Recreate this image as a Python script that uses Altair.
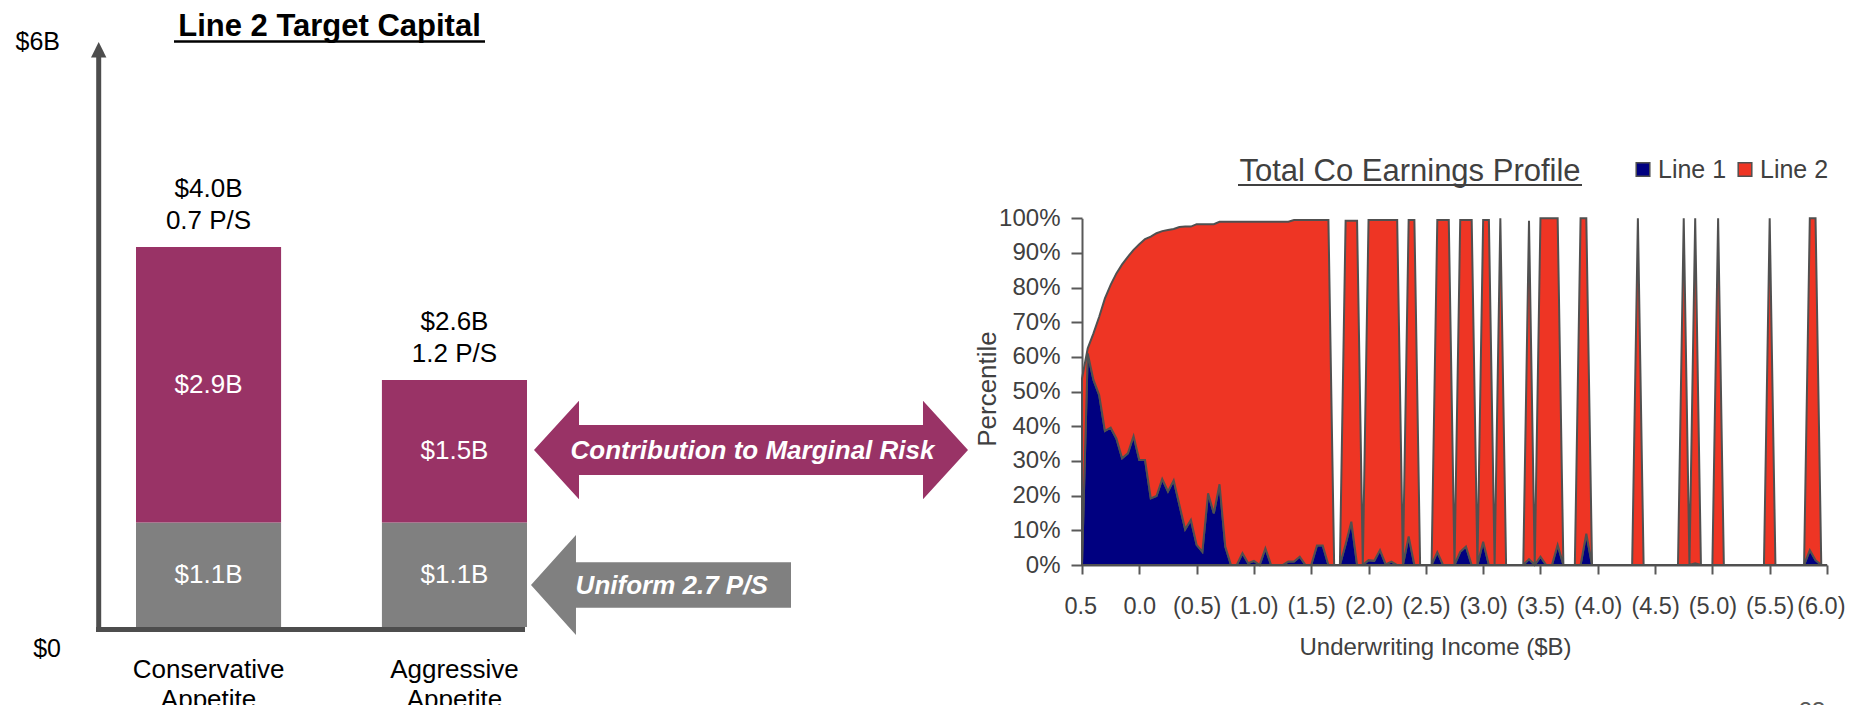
import altair as alt
import pandas as pd

FONT = "Liberation Sans, Arial, Helvetica, sans-serif"
AX = "#4d4d4d"
LBL = "#404040"

# ---------------- Left panel: Line 2 Target Capital ($B) ----------------
categories = ["Conservative Appetite", "Aggressive Appetite"]
uniform_b = [1.1, 1.1]          # grey segment (Uniform 2.7 P/S)
marginal_b = [2.9, 1.5]         # purple segment (Contribution to Marginal Risk)
total_b = [4.0, 2.6]
ps_labels = ["0.7 P/S", "1.2 P/S"]
segments = ["Uniform", "Marginal"]
segment_colors = ["#808080", "#993366"]
left_axis_values = [6, 0]
left_axis_labels = ["$6B", "$0"]
arrow_texts = ["Contribution to Marginal Risk", "Uniform 2.7 P/S"]

# ---------------- Right panel: Total Co Earnings Profile ----------------
series = ["Line 1", "Line 2"]
series_colors = ["#000080", "#EE3524"]
line1 = [0, 61, 53.4, 49, 38.7, 39.6, 36.5, 30.8, 32.2, 37.2,
         30.3, 30.3, 19.2, 19.9, 24.8, 21.2, 24.4, 17.3, 10.3, 13,
         5.8, 3.8, 20.7, 14.9, 23.3, 5.3, 0, 0, 3.4, 0.5,
         1.2, 0, 4.8, 0, 0, 0, 1, 1, 2.4, 0,
         0, 5.6, 5.6, 0, 0, 0, 6, 12.5, 0, 0,
         1.4, 1.2, 4.3, 0.2, 1, 0, 0, 8.2, 0, 0,
         0, 0, 3.7, 0, 0, 0, 3.8, 5.3, 0, 0,
         6.7, 0, 0, 0, 0, 0, 0, 0, 1.7, 0,
         2.4, 0, 0, 5.8, 0, 0, 0, 0, 9, 0,
         0, 0, 0, 0, 0, 0, 0, 0, 0, 0,
         0, 0, 0, 0, 0, 0, 0, 0.5, 0, 0,
         0, 0, 0, 0, 0, 0, 0, 0, 0, 0,
         0, 0, 0, 0, 0, 0, 0, 4.3, 1.4, 0,
         0]
line2 = [53.8, 1.5, 13.4, 22.6, 38.2, 41.2, 47.6, 55.9, 56.7, 53.7,
         62.2, 63.7, 75.5, 75.8, 71.5, 75.4, 72.5, 80.2, 87.3, 84.6,
         92.5, 94.5, 77.6, 83.4, 75.7, 93.7, 99, 99, 95.6, 98.5,
         97.8, 99, 94.2, 99, 99, 99, 98, 98.5, 97.1, 99.5,
         99.5, 93.9, 93.9, 99.5, 0, 0, 93.3, 86.8, 99.3, 0,
         98.1, 98.3, 95.2, 99.3, 98.5, 99.5, 0, 91.3, 99.5, 0,
         0, 0, 95.8, 99.5, 99.5, 0, 95.7, 94.2, 99.5, 0,
         92.8, 99.5, 0, 100, 0, 0, 0, 0, 97.6, 0,
         97.6, 100, 100, 94.2, 0, 0, 0, 100, 91, 0,
         0, 0, 0, 0, 0, 0, 0, 100, 0, 0,
         0, 0, 0, 0, 0, 100, 0, 99.5, 0, 0,
         0, 100, 0, 0, 0, 0, 0, 0, 0, 0,
         100, 0, 0, 0, 0, 0, 0, 95.7, 98.6, 0,
         0]
# category axis: underwriting income buckets 0.5 ... (6.0) in 0.05 steps
income = [round(0.5 - 0.05 * i, 2) for i in range(len(line1))]
x_ticks = [0.5, 0.0, -0.5, -1.0, -1.5, -2.0, -2.5, -3.0, -3.5, -4.0, -4.5, -5.0, -5.5, -6.0]
y_ticks = [0, 10, 20, 30, 40, 50, 60, 70, 80, 90, 100]

# ---------------- tables ----------------
bar_rows = []
for c, u, m in zip(categories, uniform_b, marginal_b):
    bar_rows.append({"category": c, "segment": "Uniform", "seg_order": 0, "value": u, "mid": u / 2})
    bar_rows.append({"category": c, "segment": "Marginal", "seg_order": 1, "value": m, "mid": u + m / 2})
bar_df = pd.DataFrame(bar_rows)
top_df = pd.DataFrame({"category": categories, "total": total_b, "ps": ps_labels})
cat_df = pd.DataFrame({"category": categories})
laxis_df = pd.DataFrame({"v": left_axis_values, "lab": left_axis_labels})

area_rows = []
for x, a, b in zip(income, line1, line2):
    area_rows.append({"income": x, "series": "Line 1", "s_order": 0, "value": a})
    area_rows.append({"income": x, "series": "Line 2", "s_order": 1, "value": b})
area_df = pd.DataFrame(area_rows)
legend_df = pd.DataFrame({"series": series})
one = pd.DataFrame({"k": [0]})

# ---------------- left layer ----------------
xL = alt.X("category:N", sort=categories, axis=None,
           scale=alt.Scale(domain=categories, range=[128, 519], paddingInner=0.41, paddingOuter=0))
yS = alt.Scale(domain=[0, 6], range=[619, 49], nice=False, zero=True)

bars = alt.Chart(bar_df).mark_bar(opacity=1).encode(
    x=xL,
    y=alt.Y("value:Q", stack="zero", scale=yS, axis=None),
    color=alt.Color("segment:N", scale=alt.Scale(domain=segments, range=segment_colors), legend=None),
    order=alt.Order("seg_order:Q"),
)
seg_text = alt.Chart(bar_df).transform_calculate(
    label="'$' + format(datum.value, '.1f') + 'B'"
).mark_text(color="white", fontSize=26, font=FONT, baseline="middle").encode(
    x=xL, y=alt.Y("mid:Q", scale=yS, axis=None), text="label:N"
)
top_amt = alt.Chart(top_df).transform_calculate(
    amount="'$' + format(datum.total, '.1f') + 'B'"
).mark_text(color="black", fontSize=26, font=FONT, baseline="middle", dy=-58).encode(
    x=xL, y=alt.Y("total:Q", scale=yS, axis=None), text="amount:N"
)
top_ps = alt.Chart(top_df).mark_text(color="black", fontSize=26, font=FONT, baseline="middle", dy=-26.5).encode(
    x=xL, y=alt.Y("total:Q", scale=yS, axis=None), text="ps:N"
)
cat1 = alt.Chart(cat_df).transform_calculate(w="split(datum.category, ' ')[0]").mark_text(
    color="black", fontSize=26, font=FONT, baseline="middle").encode(x=xL, y=alt.value(662), text="w:N")
cat2 = alt.Chart(cat_df).transform_calculate(w="split(datum.category, ' ')[1]").mark_text(
    color="black", fontSize=26, font=FONT, baseline="middle").encode(x=xL, y=alt.value(692), text="w:N")
lab6 = alt.Chart(laxis_df).transform_filter("datum.v == 6").mark_text(
    color="black", fontSize=25, font=FONT, align="right", baseline="middle", dy=-15).encode(
    x=alt.value(52), y=alt.Y("v:Q", scale=yS, axis=None), text="lab:N")
lab0 = alt.Chart(laxis_df).transform_filter("datum.v == 0").mark_text(
    color="black", fontSize=25, font=FONT, align="right", baseline="middle", dy=22).encode(
    x=alt.value(53), y=alt.Y("v:Q", scale=yS, axis=None), text="lab:N")

left_layer = alt.layer(bars, seg_text, top_amt, top_ps, cat1, cat2, lab6, lab0)

# ---------------- right layer ----------------
x_label_expr = ("datum.value > 0.01 ? format(datum.value, '.1f') : "
                "(datum.value < -0.01 ? '(' + format(-datum.value, '.1f') + ')' : '0.0')")
area = alt.Chart(area_df).mark_area(
    stroke="#505050", strokeWidth=2, opacity=1, fillOpacity=1, interpolate="linear"
).encode(
    x=alt.X("income:Q",
            scale=alt.Scale(domain=[0.5, -6.0], range=[1074, 1819], nice=False, zero=False),
            axis=alt.Axis(orient="bottom", offset=-140, values=x_ticks, labelExpr=x_label_expr,
                          title=None, grid=False, labelOverlap=False,
                          labelFlush=True, labelFlushOffset=18,
                          labelFont=FONT, labelFontSize=23.5, labelColor=LBL, labelPadding=20,
                          tickSize=9, tickWidth=2, tickColor="#595959",
                          domainColor="#595959", domainWidth=2)),
    y=alt.Y("value:Q", stack="zero",
            scale=alt.Scale(domain=[0, 100], range=[557, 210.3], nice=False),
            axis=alt.Axis(orient="left", offset=-1074, values=y_ticks, labelExpr="datum.value + '%'",
                          title=None, grid=False, labelOverlap=False, labelFlush=False,
                          labelFont=FONT, labelFontSize=24, labelColor=LBL, labelPadding=11,
                          tickSize=11, tickWidth=2, tickColor="#595959",
                          domainColor="#595959", domainWidth=2)),
    color=alt.Color("series:N", scale=alt.Scale(domain=series, range=series_colors), legend=None),
    order=alt.Order("s_order:Q"),
)
right_layer = alt.layer(area)

# legend (Line 1 / Line 2) built from the same series / colours
xLeg = alt.X("series:N", axis=None,
             scale=alt.Scale(type="point", domain=series, range=[1635, 1737], padding=0))
leg_sym = alt.Chart(legend_df).mark_square(size=185, opacity=1, filled=True, stroke="#505050",
                                            strokeWidth=1.5).encode(
    x=xLeg, y=alt.value(161.5),
    color=alt.Color("series:N", scale=alt.Scale(domain=series, range=series_colors), legend=None))
leg_txt = alt.Chart(legend_df).mark_text(align="left", baseline="middle", dx=15, fontSize=25,
                                         font=FONT, color=LBL).encode(
    x=xLeg, y=alt.value(162), text="series:N")
legend_layer = alt.layer(leg_sym, leg_txt)

# ---------------- annotations ----------------
def txt(text, x, y, size, color, **kw):
    return alt.Chart(one).mark_text(text=text, fontSize=size, font=FONT, color=color, **kw).encode(
        x=alt.value(x), y=alt.value(y))

def rule(x, y, x2=None, y2=None, color=AX, width=2):
    enc = {"x": alt.value(x), "y": alt.value(y)}
    if x2 is not None:
        enc["x2"] = alt.value(x2)
    if y2 is not None:
        enc["y2"] = alt.value(y2)
    return alt.Chart(one).mark_rule(color=color, strokeWidth=width).encode(**enc)

def shape(path, x, y, size, color):
    return alt.Chart(one).mark_point(shape=path, size=size, filled=True, opacity=1,
                                     color=color, strokeWidth=0).encode(x=alt.value(x), y=alt.value(y))

dbl_arrow = ("M -1 0 L -0.7926 -0.2272 L -0.7926 -0.1152 L 0.7926 -0.1152 L 0.7926 -0.2272 "
             "L 1 0 L 0.7926 0.2272 L 0.7926 0.1152 L -0.7926 0.1152 L -0.7926 0.2272 Z")
left_arrow = ("M -1 0 L -0.654 -0.385 L -0.654 -0.1746 L 1 -0.1746 L 1 0.1746 "
              "L -0.654 0.1746 L -0.654 0.385 Z")
tri_up = "M 0 -1 L 1 1 L -1 1 Z"

annotations = [
    # left axis (arrow) and baseline
    rule(90.7, 47, y2=624, color=AX, width=5),
    rule(88, 621.5, x2=517, color=AX, width=5),
    shape(tri_up, 90.7, 41.7, 15.4 ** 2, AX),
    # left title, underlined
    txt("Line 2 Target Capital", 321.5, 28, 31, "black", fontWeight="bold", align="center",
        baseline="alphabetic"),
    rule(166, 33.5, x2=477, color="black", width=2.5),
    # arrows
    shape(dbl_arrow, 743, 442, 434 ** 2, "#993366"),
    txt(arrow_texts[0], 744.5, 443, 26, "white", fontWeight="bold", fontStyle="italic",
        align="center", baseline="middle"),
    shape(left_arrow, 653, 577, 260 ** 2, "#808080"),
    txt(arrow_texts[1], 663.7, 578, 26, "white", fontWeight="bold", fontStyle="italic",
        align="center", baseline="middle"),
    # right title, underlined
    txt("Total Co Earnings Profile", 1402, 173, 31, LBL, align="center", baseline="alphabetic"),
    rule(1230, 177, x2=1574, color=LBL, width=2),
    # axis titles
    txt("Percentile", 980, 381, 26, LBL, align="center", baseline="middle", angle=270),
    txt("Underwriting Income ($B)", 1427.5, 640, 24, LBL, align="center", baseline="middle"),
    # page number
    txt("23", 1804, 692, 24, "#595959", align="center", baseline="top"),
]

chart = alt.layer(left_layer, right_layer, legend_layer, *annotations).resolve_scale(
    x="independent", y="independent", color="independent"
).properties(
    width=1838, height=697, padding=0, autosize=alt.AutoSizeParams(type="none")
).configure_view(strokeWidth=0)

chart.save("out.html", embed_options={"renderer": "svg", "actions": False})
